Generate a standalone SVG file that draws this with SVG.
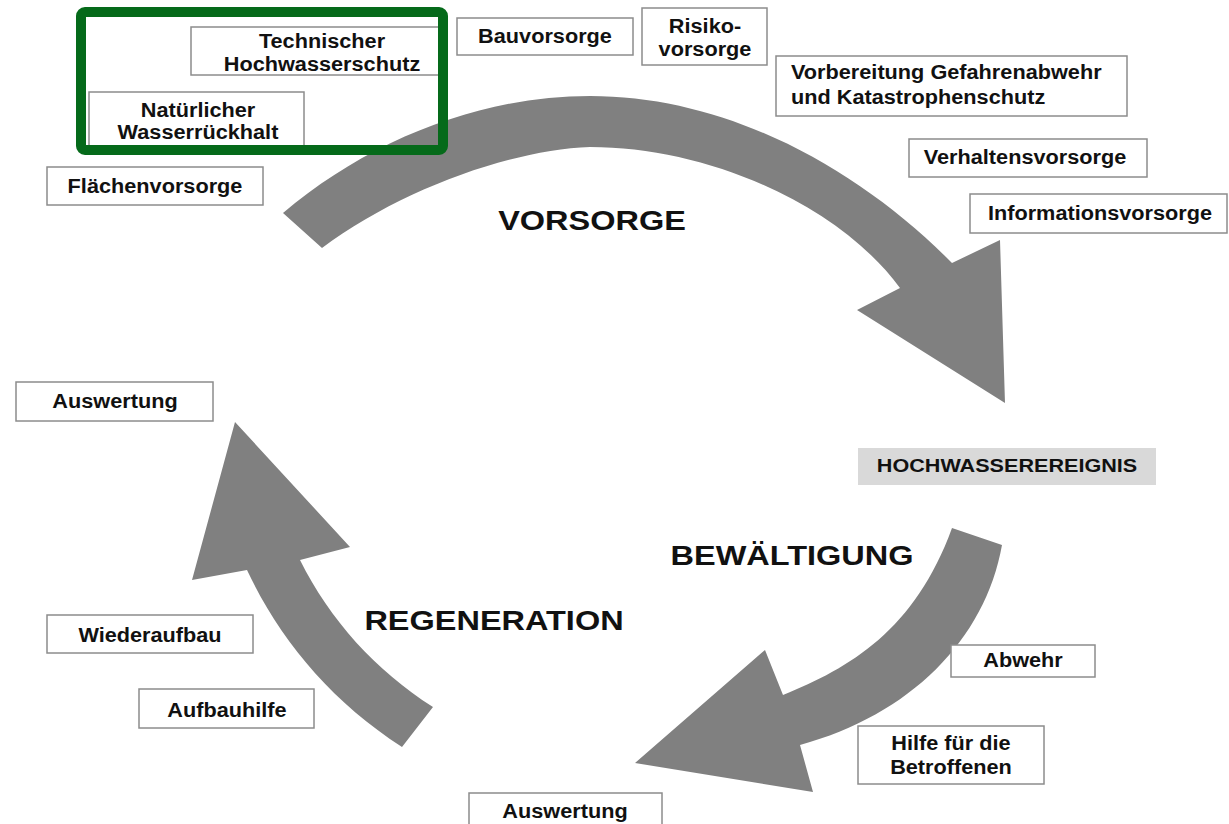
<svg xmlns="http://www.w3.org/2000/svg" width="1229" height="824" viewBox="0 0 1229 824">
<style>
.box{fill:#fff;stroke:#8c8c8c;stroke-width:1.5}
.lbl{font-family:"Liberation Sans",Arial,sans-serif;font-weight:bold;font-size:20px;fill:#111;text-anchor:middle}
.lft{text-anchor:start}
.big{font-family:"Liberation Sans",Arial,sans-serif;font-weight:bold;font-size:28px;fill:#111;text-anchor:middle}
.arr{fill:#808080}
</style>
<rect width="1229" height="824" fill="#fff"/>
<g id="connectors">
<path class="arr" d="M283,213 C370,140 480,96 590,96 C730,96 860,170 952,263 L1000,240 L1005,403 L857,310 L900,288 C840,206 710,147 590,147 C510,150 400,190 322,248 Z"/>
<path class="arr" d="M952,528 L1002,545 C985,640 910,715 800,745 L813,792 L635,763 L765,650 L783,695 C850,668 915,630 952,528 Z"/>
<path class="arr" d="M235,422 L350,547 L300,560 C330,620 375,670 433,707 L402,747 C330,700 280,640 247,570 L192,580 Z"/>
</g>
<g id="phase-vorsorge"><text class="big" transform="translate(592,230) scale(1.16,1)">VORSORGE</text></g>
<g id="phase-bewaeltigung"><text class="big" transform="translate(792,565) scale(1.16,1)">BEWÄLTIGUNG</text></g>
<g id="phase-regeneration"><text class="big" transform="translate(494,630) scale(1.16,1)">REGENERATION</text></g>
<g id="technischer-hochwasserschutz"><rect class="box" x="191" y="27" width="254" height="48"/><text class="lbl" transform="translate(322,48) scale(1.085,1)"><tspan x="0" y="0">Technischer</tspan><tspan x="0" y="23">Hochwasserschutz</tspan></text></g>
<g id="natuerlicher-wasserrueckhalt"><rect class="box" x="89" y="92" width="215" height="56"/><text class="lbl" transform="translate(198,117) scale(1.085,1)"><tspan x="0" y="0">Natürlicher</tspan><tspan x="0" y="22">Wasserrückhalt</tspan></text></g>
<g id="flaechenvorsorge"><rect class="box" x="47" y="167" width="216" height="38"/><text class="lbl" transform="translate(155,193) scale(1.085,1)">Flächenvorsorge</text></g>
<g id="bauvorsorge"><rect class="box" x="457" y="18" width="176" height="37"/><text class="lbl" transform="translate(545,43) scale(1.085,1)">Bauvorsorge</text></g>
<g id="risikovorsorge"><rect class="box" x="642" y="8" width="125" height="57"/><text class="lbl" transform="translate(705,33) scale(1.085,1)"><tspan x="0" y="0">Risiko-</tspan><tspan x="0" y="23">vorsorge</tspan></text></g>
<g id="vorbereitung"><rect class="box" x="776" y="56" width="351" height="60"/><text class="lbl lft" transform="translate(791,79) scale(1.085,1)"><tspan x="0" y="0">Vorbereitung Gefahrenabwehr</tspan><tspan x="0" y="25">und Katastrophenschutz</tspan></text></g>
<g id="verhaltensvorsorge"><rect class="box" x="909" y="139" width="238" height="38"/><text class="lbl" transform="translate(1025,164) scale(1.085,1)">Verhaltensvorsorge</text></g>
<g id="informationsvorsorge"><rect class="box" x="970" y="194" width="257" height="39"/><text class="lbl" transform="translate(1100,220) scale(1.085,1)">Informationsvorsorge</text></g>
<g id="hochwasserereignis"><rect x="858" y="448" width="298" height="37" fill="#d9d9d9"/><text class="lbl" style="font-size:18px" transform="translate(1007,472) scale(1.2,1)">HOCHWASSEREREIGNIS</text></g>
<g id="abwehr"><rect class="box" x="951" y="645" width="144" height="32"/><text class="lbl" transform="translate(1023,667) scale(1.085,1)">Abwehr</text></g>
<g id="hilfe"><rect class="box" x="858" y="726" width="186" height="58"/><text class="lbl" transform="translate(951,750) scale(1.085,1)"><tspan x="0" y="0">Hilfe für die</tspan><tspan x="0" y="24">Betroffenen</tspan></text></g>
<g id="auswertung-bottom"><rect class="box" x="469" y="793" width="193" height="40"/><text class="lbl" transform="translate(565,818) scale(1.085,1)">Auswertung</text></g>
<g id="auswertung-top"><rect class="box" x="16" y="382" width="197" height="39"/><text class="lbl" transform="translate(115,408) scale(1.085,1)">Auswertung</text></g>
<g id="wiederaufbau"><rect class="box" x="47" y="615" width="206" height="38"/><text class="lbl" transform="translate(150,642) scale(1.085,1)">Wiederaufbau</text></g>
<g id="aufbauhilfe"><rect class="box" x="139" y="689" width="175" height="39"/><text class="lbl" transform="translate(227,717) scale(1.085,1)">Aufbauhilfe</text></g>
<g id="highlight"><rect x="81" y="12" width="362" height="138" rx="4" fill="none" stroke="#056a1a" stroke-width="10"/></g>
</svg>
